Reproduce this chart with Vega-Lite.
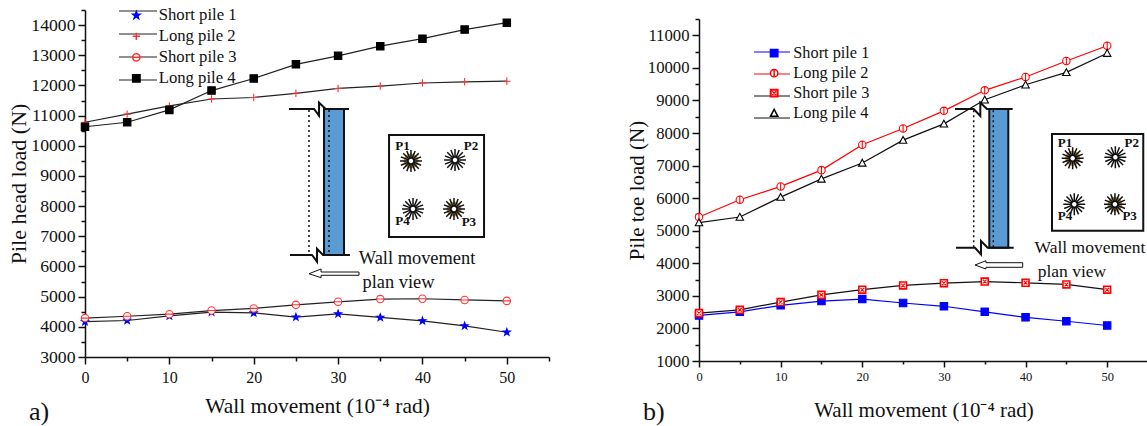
{"$schema":"https://vega.github.io/schema/vega-lite/v6.json","padding":{"left":7,"top":-9,"right":0,"bottom":0},"autosize":{"type":"pad"},"background":"white","bounds":"flush","spacing":150,"resolve":{"scale":{"color":"independent","stroke":"independent","fill":"independent","shape":"independent"},"legend":{"color":"independent","stroke":"independent","fill":"independent","shape":"independent"}},"config":{"font":"Liberation Serif","view":{"stroke":null},"text":{"font":"Liberation Serif"},"axis":{"labelFont":"Liberation Serif","titleFont":"Liberation Serif","labelColor":"#111","titleColor":"#111","domainColor":"#111","tickColor":"#111","domainWidth":1.5,"tickWidth":1.5,"grid":false,"titleFontWeight":"normal"},"legend":{"labelFont":"Liberation Serif","labelColor":"#111","padding":0,"titlePadding":0}},"datasets":{"a":[{"x":0,"s":"Short pile 1","y":4170},{"x":5,"s":"Short pile 1","y":4210},{"x":10,"s":"Short pile 1","y":4360},{"x":15,"s":"Short pile 1","y":4490},{"x":20,"s":"Short pile 1","y":4460},{"x":25,"s":"Short pile 1","y":4320},{"x":30,"s":"Short pile 1","y":4430},{"x":35,"s":"Short pile 1","y":4310},{"x":40,"s":"Short pile 1","y":4200},{"x":45,"s":"Short pile 1","y":4030},{"x":50,"s":"Short pile 1","y":3820},{"x":0,"s":"Long pile 2","y":10780},{"x":5,"s":"Long pile 2","y":11050},{"x":10,"s":"Long pile 2","y":11320},{"x":15,"s":"Long pile 2","y":11550},{"x":20,"s":"Long pile 2","y":11600},{"x":25,"s":"Long pile 2","y":11740},{"x":30,"s":"Long pile 2","y":11900},{"x":35,"s":"Long pile 2","y":11980},{"x":40,"s":"Long pile 2","y":12080},{"x":45,"s":"Long pile 2","y":12120},{"x":50,"s":"Long pile 2","y":12140},{"x":0,"s":"Short pile 3","y":4290},{"x":5,"s":"Short pile 3","y":4350},{"x":10,"s":"Short pile 3","y":4420},{"x":15,"s":"Short pile 3","y":4540},{"x":20,"s":"Short pile 3","y":4610},{"x":25,"s":"Short pile 3","y":4730},{"x":30,"s":"Short pile 3","y":4830},{"x":35,"s":"Short pile 3","y":4920},{"x":40,"s":"Short pile 3","y":4930},{"x":45,"s":"Short pile 3","y":4890},{"x":50,"s":"Short pile 3","y":4860},{"x":0,"s":"Long pile 4","y":10630},{"x":5,"s":"Long pile 4","y":10780},{"x":10,"s":"Long pile 4","y":11190},{"x":15,"s":"Long pile 4","y":11830},{"x":20,"s":"Long pile 4","y":12230},{"x":25,"s":"Long pile 4","y":12700},{"x":30,"s":"Long pile 4","y":12980},{"x":35,"s":"Long pile 4","y":13300},{"x":40,"s":"Long pile 4","y":13550},{"x":45,"s":"Long pile 4","y":13850},{"x":50,"s":"Long pile 4","y":14080}],"b":[{"x":0,"s":"Short pile 1","y":2400},{"x":5,"s":"Short pile 1","y":2510},{"x":10,"s":"Short pile 1","y":2710},{"x":15,"s":"Short pile 1","y":2840},{"x":20,"s":"Short pile 1","y":2900},{"x":25,"s":"Short pile 1","y":2780},{"x":30,"s":"Short pile 1","y":2680},{"x":35,"s":"Short pile 1","y":2510},{"x":40,"s":"Short pile 1","y":2340},{"x":45,"s":"Short pile 1","y":2220},{"x":50,"s":"Short pile 1","y":2090},{"x":0,"s":"Long pile 2","y":5420},{"x":5,"s":"Long pile 2","y":5950},{"x":10,"s":"Long pile 2","y":6360},{"x":15,"s":"Long pile 2","y":6860},{"x":20,"s":"Long pile 2","y":7640},{"x":25,"s":"Long pile 2","y":8140},{"x":30,"s":"Long pile 2","y":8680},{"x":35,"s":"Long pile 2","y":9310},{"x":40,"s":"Long pile 2","y":9720},{"x":45,"s":"Long pile 2","y":10210},{"x":50,"s":"Long pile 2","y":10680},{"x":0,"s":"Short pile 3","y":2470},{"x":5,"s":"Short pile 3","y":2570},{"x":10,"s":"Short pile 3","y":2810},{"x":15,"s":"Short pile 3","y":3030},{"x":20,"s":"Short pile 3","y":3190},{"x":25,"s":"Short pile 3","y":3320},{"x":30,"s":"Short pile 3","y":3390},{"x":35,"s":"Short pile 3","y":3440},{"x":40,"s":"Short pile 3","y":3400},{"x":45,"s":"Short pile 3","y":3350},{"x":50,"s":"Short pile 3","y":3190},{"x":0,"s":"Long pile 4","y":5250},{"x":5,"s":"Long pile 4","y":5420},{"x":10,"s":"Long pile 4","y":6030},{"x":15,"s":"Long pile 4","y":6590},{"x":20,"s":"Long pile 4","y":7080},{"x":25,"s":"Long pile 4","y":7780},{"x":30,"s":"Long pile 4","y":8280},{"x":35,"s":"Long pile 4","y":9020},{"x":40,"s":"Long pile 4","y":9480},{"x":45,"s":"Long pile 4","y":9860},{"x":50,"s":"Long pile 4","y":10450}]},"hconcat":[{"width":464,"height":347,"encoding":{"x":{"field":"x","type":"quantitative","scale":{"domain":[0,55],"nice":false},"axis":{"title":"Wall movement (10⁻⁴ rad)","titleFontSize":21.5,"titlePadding":10,"labelFontSize":16,"labelPadding":5,"values":[0,5,10,15,20,25,30,35,40,45,50,55],"labelExpr":"datum.value % 10 == 0 && datum.value < 55 ? datum.label : ''","tickSize":{"expr":"datum.value % 10 == 0 ? 7 : 4"},"labelFlush":false,"labelOverlap":false}},"y":{"field":"y","type":"quantitative","scale":{"domain":[3000,14500],"nice":false},"axis":{"title":"Pile head load (N)","titleFontSize":22,"titlePadding":0,"labelFontSize":17.7,"labelPadding":3,"values":[3000,3500,4000,4500,5000,5500,6000,6500,7000,7500,8000,8500,9000,9500,10000,10500,11000,11500,12000,12500,13000,13500,14000,14500],"format":"d","labelExpr":"datum.value % 1000 == 0 ? datum.label : ''","tickSize":{"expr":"datum.value % 1000 == 0 ? 7 : 4"},"labelOverlap":false}}},"layer":[{"data":{"values":[{"x":28.33,"x2":30.7,"y":11219,"y2":6380}]},"mark":{"type":"rect","fill":"#5b9bd5","stroke":"#111","strokeWidth":2},"encoding":{"x2":{"field":"x2"},"y2":{"field":"y2"}}},{"data":{"values":[{"x":36.04,"x2":47.3,"y":10357,"y2":6977}]},"mark":{"type":"rect","fill":"white","stroke":"#111","strokeWidth":2},"encoding":{"x2":{"field":"x2"},"y2":{"field":"y2"}}},{"data":{"values":[{"g":"top","o":0,"x":24.18,"y":11219},{"g":"top","o":1,"x":27.15,"y":11219},{"g":"top","o":2,"x":27.74,"y":10997},{"g":"top","o":3,"x":27.74,"y":11428},{"g":"top","o":4,"x":28.53,"y":11219},{"g":"top","o":5,"x":31.29,"y":11219},{"g":"bot","o":0,"x":24.3,"y":6380},{"g":"bot","o":1,"x":26.91,"y":6380},{"g":"bot","o":2,"x":27.5,"y":6158},{"g":"bot","o":3,"x":27.5,"y":6589},{"g":"bot","o":4,"x":28.21,"y":6380},{"g":"bot","o":5,"x":31.41,"y":6380}]},"mark":{"type":"line","stroke":"#111","strokeWidth":2},"encoding":{"detail":{"field":"g"},"order":{"field":"o"}}},{"data":{"values":[{"g":"outer","o":0,"x":26.55,"y":11190},{"g":"outer","o":1,"x":26.55,"y":6380},{"g":"inner","o":0,"x":28.92,"y":11190},{"g":"inner","o":1,"x":28.92,"y":6380}]},"mark":{"type":"line","stroke":"#111","strokeWidth":1.5,"strokeDash":[2,3]},"encoding":{"detail":{"field":"g"},"order":{"field":"o"}}},{"data":{"values":[{"o":0,"x":32.48,"y":5817},{"o":1,"x":27.98,"y":5817},{"o":2,"x":27.98,"y":5916},{"o":3,"x":26.55,"y":5760},{"o":4,"x":27.98,"y":5628},{"o":5,"x":27.98,"y":5708},{"o":6,"x":32.48,"y":5708},{"o":7,"x":32.48,"y":5817}]},"mark":{"type":"line","stroke":"#111","strokeWidth":1},"encoding":{"order":{"field":"o"}}},{"data":{"values":[{"x":38.64,"y":9495},{"x":43.74,"y":7905}]},"mark":{"type":"point","shape":"circle","size":144,"stroke":"#b09050","strokeWidth":3,"fill":"white","opacity":1},"encoding":{}},{"data":{"values":[{"x":38.64,"y":9495},{"x":43.86,"y":9529},{"x":38.88,"y":7905},{"x":43.74,"y":7905}]},"mark":{"type":"point","shape":"M.2,0H1M-.2,0H-1M0,.2V1M0,-.2V-1M.14,.14L.71,.71M-.14,-.14L-.71,-.71M.14,-.14L.71,-.71M-.14,.14L-.71,.71M.18,.08L.92,.38M-.18,-.08L-.92,-.38M.18,-.08L.92,-.38M-.18,.08L-.92,.38M.08,.18L.38,.92M-.08,-.18L-.38,-.92M.08,-.18L.38,-.92M-.08,.18L-.38,.92","size":480,"stroke":"#111","strokeWidth":1.5,"fill":null,"opacity":1},"encoding":{}},{"data":{"values":[{"x":37.64,"y":9993,"t":"P1"},{"x":45.76,"y":9993,"t":"P2"},{"x":37.64,"y":7507,"t":"P4"},{"x":45.5,"y":7487,"t":"P3"}]},"mark":{"type":"text","font":"Liberation Serif","fontWeight":"bold","fontSize":13,"color":"#111"},"encoding":{"text":{"field":"t"}}},{"data":{"values":[{"x":39.36,"y":6281,"t":"Wall movement"},{"x":37.16,"y":5486,"t":"plan view"}]},"mark":{"type":"text","font":"Liberation Serif","fontSize":18.4,"color":"#111"},"encoding":{"text":{"field":"t"}}},{"data":{"values":[{"x":-6.64,"y":1177,"t":"a)"}]},"mark":{"type":"text","font":"Liberation Serif","fontSize":26,"align":"left","color":"#111"},"encoding":{"text":{"field":"t"}}},{"data":{"name":"a"},"mark":{"type":"line","strokeWidth":1.2},"encoding":{"color":{"field":"s","type":"nominal","scale":{"domain":["Short pile 1","Short pile 3","Long pile 2","Long pile 4"],"range":["#222","#222","#222","#222"]},"legend":{"values":["Short pile 1","Long pile 2","Short pile 3","Long pile 4"],"orient":"none","legendX":33,"legendY":-19,"title":null,"symbolType":"stroke","symbolSize":1444,"symbolStrokeWidth":1.2,"labelExpr":"''","rowPadding":-18.7,"labelFontSize":1,"labelOffset":0}}}},{"data":{"name":"a"},"mark":{"type":"point","size":55,"opacity":1,"strokeWidth":1.1},"encoding":{"stroke":{"field":"s","type":"nominal","scale":{"domain":["Short pile 1","Long pile 2","Short pile 3","Long pile 4"],"range":["#0000ff","#ff3333","#ff3333","#000000"]},"legend":{"orient":"none","legendX":43,"legendY":-3,"title":null,"symbolSize":55,"symbolOpacity":1,"labelFontSize":16.7,"labelOffset":14,"rowPadding":3}},"fill":{"field":"s","type":"nominal","scale":{"domain":["Short pile 1","Long pile 2","Short pile 3","Long pile 4"],"range":["#0000ff","transparent","#ffffff","#000000"]},"legend":{"orient":"none","legendX":43,"legendY":-3,"title":null,"symbolSize":55,"symbolOpacity":1,"labelFontSize":16.7,"labelOffset":14,"rowPadding":3}},"shape":{"field":"s","type":"nominal","scale":{"domain":["Short pile 1","Long pile 2","Short pile 3","Long pile 4"],"range":["M0,-1L.24,-.33L.95,-.31L.38,.12L.59,.81L0,.4L-.59,.81L-.38,.12L-.95,-.31L-.24,-.33Z","M-1,0H1M0,-1V1","M-1,0A1,1 0 1,1 1,0A1,1 0 1,1 -1,0ZM-1,0H1","M-1,-1H1V1H-1Z"]},"legend":{"orient":"none","legendX":43,"legendY":-3,"title":null,"symbolSize":55,"symbolOpacity":1,"labelFontSize":16.7,"labelOffset":14,"rowPadding":3}}}}]},{"bounds":"flush","spacing":0,"resolve":{"scale":{"color":"independent","stroke":"independent","fill":"independent","shape":"independent"},"legend":{"color":"independent","stroke":"independent","fill":"independent","shape":"independent"}},"vconcat":[{"width":449,"height":9,"data":{"values":[{"k":0}]},"mark":{"type":"text"},"encoding":{"text":{"value":""}}},{"width":449,"height":342,"encoding":{"x":{"field":"x","type":"quantitative","scale":{"domain":[0,55],"nice":false},"axis":{"title":"Wall movement (10⁻⁴ rad)","titleFontSize":21,"titlePadding":17,"labelFontSize":12.5,"labelPadding":3,"values":[0,5,10,15,20,25,30,35,40,45,50,55],"labelExpr":"datum.value % 10 == 0 && datum.value < 55 ? datum.label : ''","tickSize":{"expr":"datum.value % 10 == 0 ? 6 : 3"},"labelFlush":false,"labelOverlap":false}},"y":{"field":"y","type":"quantitative","scale":{"domain":[1000,11500],"nice":false},"axis":{"title":"Pile toe load (N)","titleFontSize":21,"titlePadding":0,"labelFontSize":16.7,"labelPadding":3,"values":[1000,1500,2000,2500,3000,3500,4000,4500,5000,5500,6000,6500,7000,7500,8000,8500,9000,9500,10000,10500,11000,11500],"format":"d","labelExpr":"datum.value % 1000 == 0 ? datum.label : ''","tickSize":{"expr":"datum.value % 1000 == 0 ? 7 : 4"},"labelOverlap":false}}},"layer":[{"data":{"values":[{"x":35.56,"x2":37.89,"y":8736,"y2":4478}]},"mark":{"type":"rect","fill":"#5b9bd5","stroke":"#111","strokeWidth":2},"encoding":{"x2":{"field":"x2"},"y2":{"field":"y2"}}},{"data":{"values":[{"x":43.24,"x2":54.42,"y":7969,"y2":5000}]},"mark":{"type":"rect","fill":"white","stroke":"#111","strokeWidth":2},"encoding":{"x2":{"field":"x2"},"y2":{"field":"y2"}}},{"data":{"values":[{"g":"top","o":0,"x":31.36,"y":8736},{"g":"top","o":1,"x":33.65,"y":8736},{"g":"top","o":2,"x":34.46,"y":8522},{"g":"top","o":3,"x":34.46,"y":8930},{"g":"top","o":4,"x":35.28,"y":8736},{"g":"top","o":5,"x":38.42,"y":8736},{"g":"bot","o":0,"x":31.48,"y":4478},{"g":"bot","o":1,"x":33.81,"y":4478},{"g":"bot","o":2,"x":34.54,"y":4273},{"g":"bot","o":3,"x":34.54,"y":4684},{"g":"bot","o":4,"x":35.36,"y":4478},{"g":"bot","o":5,"x":38.55,"y":4478}]},"mark":{"type":"line","stroke":"#111","strokeWidth":2},"encoding":{"detail":{"field":"g"},"order":{"field":"o"}}},{"data":{"values":[{"g":"outer","o":0,"x":33.65,"y":8700},{"g":"outer","o":1,"x":33.65,"y":4478},{"g":"inner","o":0,"x":36.05,"y":8700},{"g":"inner","o":1,"x":36.05,"y":4478}]},"mark":{"type":"line","stroke":"#111","strokeWidth":1.5,"strokeDash":[2,3]},"encoding":{"detail":{"field":"g"},"order":{"field":"o"}}},{"data":{"values":[{"o":0,"x":39.65,"y":4018},{"o":1,"x":35.15,"y":4018},{"o":2,"x":35.15,"y":4079},{"o":3,"x":33.81,"y":3947},{"o":4,"x":35.15,"y":3824},{"o":5,"x":35.15,"y":3877},{"o":6,"x":39.65,"y":3877},{"o":7,"x":39.65,"y":4018}]},"mark":{"type":"line","stroke":"#111","strokeWidth":1},"encoding":{"order":{"field":"o"}}},{"data":{"values":[{"x":45.77,"y":7223},{"x":50.95,"y":5811}]},"mark":{"type":"point","shape":"circle","size":144,"stroke":"#b09050","strokeWidth":3,"fill":"white","opacity":1},"encoding":{}},{"data":{"values":[{"x":45.77,"y":7223},{"x":51.0,"y":7254},{"x":45.97,"y":5811},{"x":50.95,"y":5811}]},"mark":{"type":"point","shape":"M.2,0H1M-.2,0H-1M0,.2V1M0,-.2V-1M.14,.14L.71,.71M-.14,-.14L-.71,-.71M.14,-.14L.71,-.71M-.14,.14L-.71,.71M.18,.08L.92,.38M-.18,-.08L-.92,-.38M.18,-.08L.92,-.38M-.18,.08L-.92,.38M.08,.18L.38,.92M-.08,-.18L-.38,-.92M.08,-.18L.38,-.92M-.08,.18L-.38,.92","size":480,"stroke":"#111","strokeWidth":1.5,"fill":null,"opacity":1},"encoding":{}},{"data":{"values":[{"x":44.83,"y":7683,"t":"P1"},{"x":53.0,"y":7683,"t":"P2"},{"x":44.83,"y":5461,"t":"P4"},{"x":52.75,"y":5461,"t":"P3"}]},"mark":{"type":"text","font":"Liberation Serif","fontWeight":"bold","fontSize":13,"color":"#111"},"encoding":{"text":{"field":"t"}}},{"data":{"values":[{"x":47.89,"y":4478,"t":"Wall movement"},{"x":45.68,"y":3741,"t":"plan view"}]},"mark":{"type":"text","font":"Liberation Serif","fontSize":17.5,"color":"#111"},"encoding":{"text":{"field":"t"}}},{"data":{"values":[{"x":-6.86,"y":-566,"t":"b)"}]},"mark":{"type":"text","font":"Liberation Serif","fontSize":26,"align":"left","color":"#111"},"encoding":{"text":{"field":"t"}}},{"data":{"name":"b"},"mark":{"type":"line","strokeWidth":1.2},"encoding":{"color":{"field":"s","type":"nominal","scale":{"domain":["Short pile 1","Short pile 3","Long pile 2","Long pile 4"],"range":["#0000ff","#111111","#ff0000","#111111"]},"legend":{"values":["Short pile 1","Long pile 2","Short pile 3","Long pile 4"],"orient":"none","legendX":54,"legendY":14,"title":null,"symbolType":"stroke","symbolSize":1296,"symbolStrokeWidth":1.2,"labelExpr":"''","rowPadding":-17.3,"labelFontSize":1,"labelOffset":0}}}},{"data":{"name":"b"},"mark":{"type":"point","size":55,"opacity":1,"strokeWidth":1.1},"encoding":{"stroke":{"field":"s","type":"nominal","scale":{"domain":["Short pile 1","Long pile 2","Short pile 3","Long pile 4"],"range":["#0000ff","#ff0000","#ff0000","#000000"]},"legend":{"orient":"none","legendX":67,"legendY":26,"title":null,"symbolSize":55,"symbolOpacity":1,"labelFontSize":16.3,"labelOffset":11,"rowPadding":3}},"fill":{"field":"s","type":"nominal","scale":{"domain":["Short pile 1","Long pile 2","Short pile 3","Long pile 4"],"range":["#0000ff","#ffffff","#ffffff","#ffffff"]},"legend":{"orient":"none","legendX":67,"legendY":26,"title":null,"symbolSize":55,"symbolOpacity":1,"labelFontSize":16.3,"labelOffset":11,"rowPadding":3}},"shape":{"field":"s","type":"nominal","scale":{"domain":["Short pile 1","Long pile 2","Short pile 3","Long pile 4"],"range":["M-1,-1H1V1H-1Z","M-1,0A1,1 0 1,1 1,0A1,1 0 1,1 -1,0ZM0,-1V1","M-1,-1H1V1H-1ZM-.85,-.85H.85V.85H-.85ZM-.5,-.5L.5,.5M-.5,.5L.5,-.5","M0,-1L1,.85H-1Z"]},"legend":{"orient":"none","legendX":67,"legendY":26,"title":null,"symbolSize":55,"symbolOpacity":1,"labelFontSize":16.3,"labelOffset":11,"rowPadding":3}}}}]}]}]}
